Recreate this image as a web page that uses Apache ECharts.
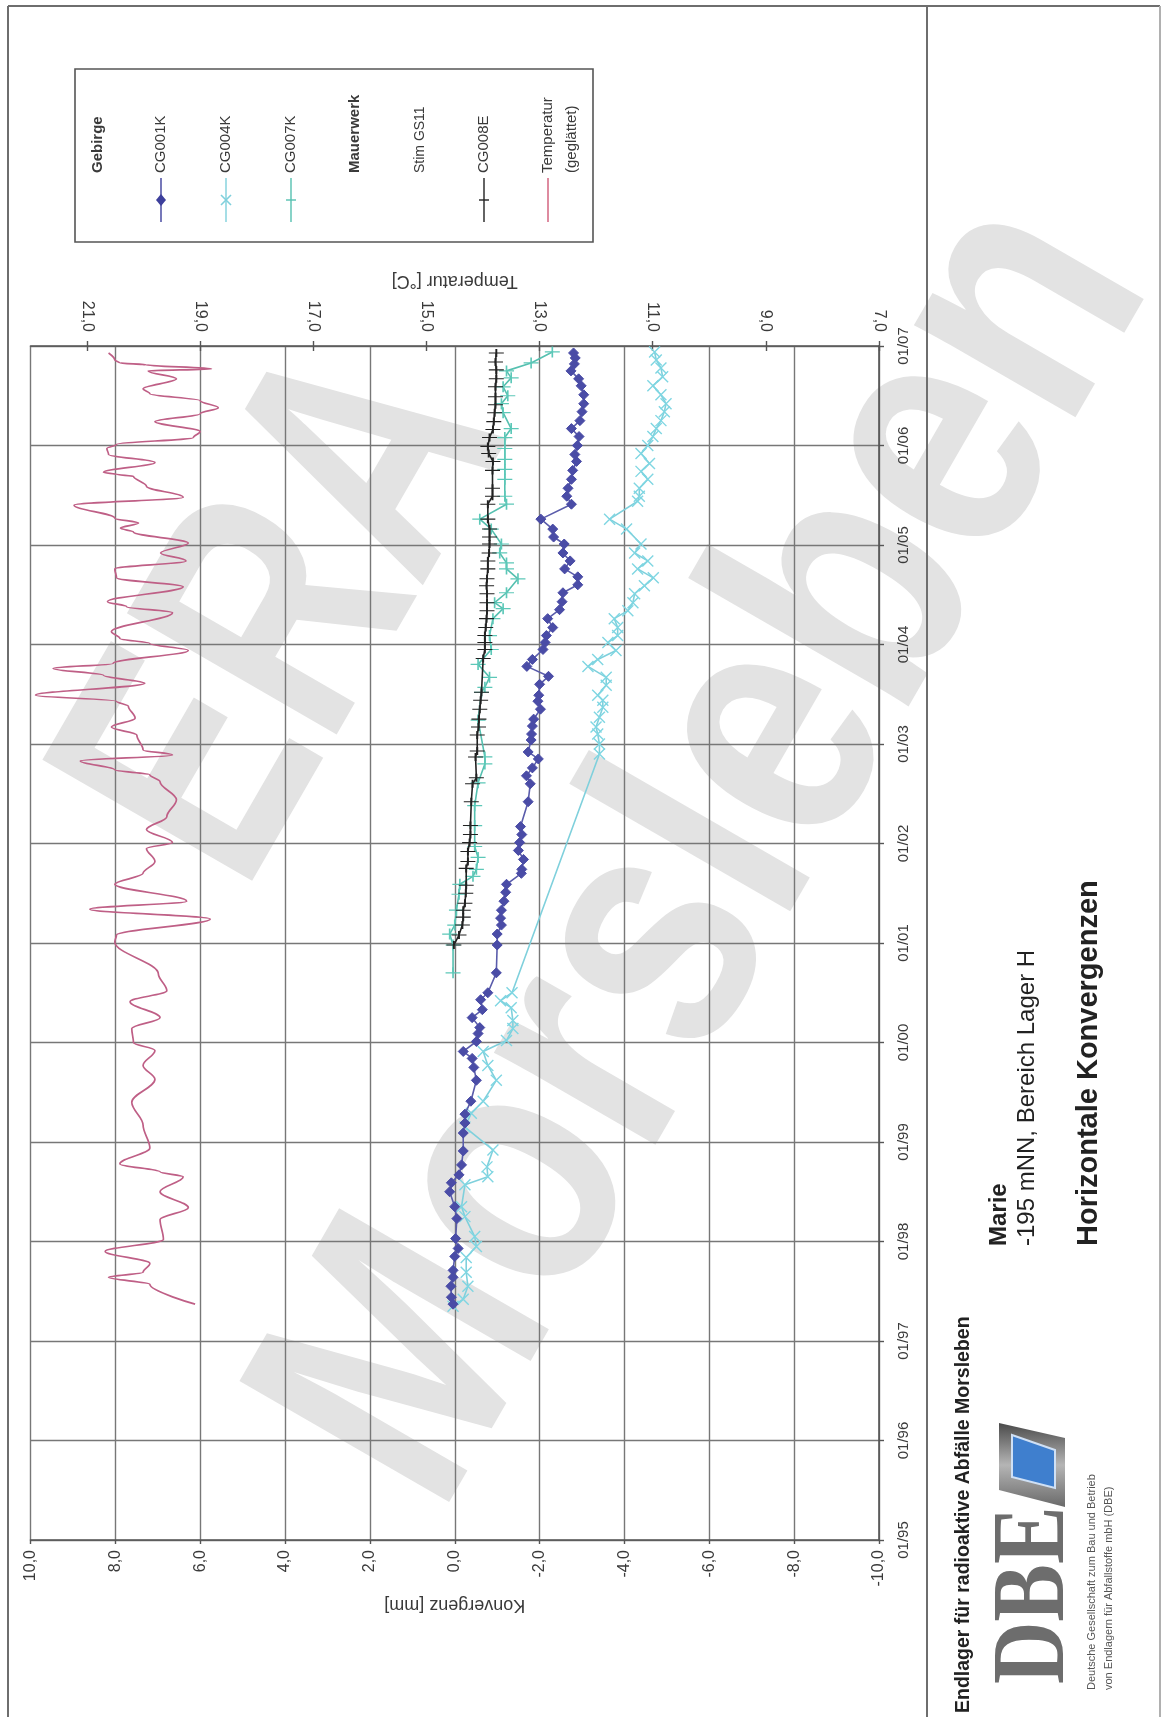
<!DOCTYPE html>
<html><head><meta charset="utf-8">
<style>html,body{margin:0;padding:0;background:#fff}#c{width:1161px;height:1717px;filter:blur(.45px)}</style>
<script src="https://cdn.jsdelivr.net/npm/echarts@6/dist/echarts.min.js"></script>
</head><body><div id="c"></div>
<script>
const cg001kYears=[2006.93,2006.88,2006.82,2006.75,2006.67,2006.60,2006.51,2006.42,2006.34,2006.25,2006.17,2006.09,2006.00,2005.91,2005.84,2005.75,2005.66,2005.57,2005.49,2005.41,2005.26,2005.16,2005.08,2005.01,2004.92,2004.84,2004.76,2004.68,2004.60,2004.52,2004.43,2004.35,2004.26,2004.17,2004.09,2004.02,2003.95,2003.85,2003.78,2003.68,2003.60,2003.49,2003.43,2003.35,2003.25,2003.18,2003.10,2003.04,2002.92,2002.85,2002.76,2002.68,2002.60,2002.42,2002.17,2002.09,2002.01,2001.93,2001.84,2001.74,2001.70,2001.59,2001.51,2001.42,2001.33,2001.25,2001.18,2001.09,2000.98,2000.70,2000.50,2000.43,2000.33,2000.25,2000.15,2000.09,2000.01,1999.91,1999.84,1999.75,1999.62,1999.41,1999.28,1999.19,1999.09,1998.91,1998.77,1998.67,1998.59,1998.50,1998.35,1998.23,1998.03,1997.93,1997.85,1997.71,1997.64,1997.55,1997.44,1997.37];
const cg001kValues=[-2.80,-2.84,-2.82,-2.74,-2.92,-2.98,-3.04,-3.04,-3.00,-2.95,-2.75,-2.93,-2.89,-2.83,-2.87,-2.78,-2.75,-2.67,-2.64,-2.75,-2.03,-2.31,-2.33,-2.58,-2.55,-2.72,-2.59,-2.90,-2.90,-2.55,-2.53,-2.47,-2.19,-2.31,-2.16,-2.13,-2.08,-1.83,-1.70,-2.21,-2.00,-1.98,-1.96,-2.02,-1.86,-1.83,-1.81,-1.80,-1.73,-1.97,-1.83,-1.69,-1.78,-1.73,-1.55,-1.58,-1.53,-1.50,-1.62,-1.58,-1.57,-1.22,-1.20,-1.16,-1.10,-1.08,-1.10,-1.00,-1.00,-0.98,-0.78,-0.61,-0.65,-0.41,-0.59,-0.55,-0.51,-0.20,-0.41,-0.45,-0.51,-0.38,-0.24,-0.24,-0.20,-0.20,-0.16,-0.10,0.08,0.12,0.00,-0.05,-0.02,-0.08,0.00,0.04,0.04,0.09,0.08,0.04];
const cg004kYears=[2006.94,2006.86,2006.78,2006.69,2006.60,2006.51,2006.42,2006.34,2006.25,2006.17,2006.09,2006.00,2005.92,2005.82,2005.74,2005.66,2005.57,2005.49,2005.44,2005.26,2005.16,2005.01,2004.92,2004.84,2004.76,2004.67,2004.59,2004.51,2004.42,2004.34,2004.26,2004.17,2004.09,2004.02,2003.94,2003.85,2003.78,2003.67,2003.59,2003.49,2003.44,2003.37,2003.27,2003.17,2003.10,2003.00,2002.90,2000.50,2000.42,2000.35,2000.22,2000.14,2000.02,1999.91,1999.77,1999.62,1999.41,1999.29,1999.15,1998.92,1998.75,1998.65,1998.57,1998.35,1998.25,1998.05,1997.95,1997.84,1997.69,1997.55,1997.42,1997.35];
const cg004kValues=[-4.71,-4.75,-4.86,-4.90,-4.67,-4.86,-4.98,-4.94,-4.86,-4.75,-4.67,-4.55,-4.39,-4.59,-4.39,-4.55,-4.35,-4.35,-4.31,-3.65,-4.05,-4.39,-4.24,-4.55,-4.31,-4.68,-4.47,-4.24,-4.20,-4.08,-3.76,-3.84,-3.84,-3.61,-3.80,-3.37,-3.14,-3.57,-3.57,-3.37,-3.49,-3.49,-3.41,-3.33,-3.37,-3.41,-3.41,-1.35,-1.08,-1.33,-1.37,-1.37,-1.22,-0.67,-0.78,-0.98,-0.67,-0.39,-0.24,-0.90,-0.76,-0.78,-0.24,-0.16,-0.24,-0.47,-0.51,-0.27,-0.27,-0.31,-0.20,0.04];
const cg007kYears=[2006.94,2006.83,2006.75,2006.68,2006.59,2006.50,2006.42,2006.33,2006.17,2006.08,2005.97,2005.86,2005.76,2005.66,2005.49,2005.41,2005.26,2005.16,2005.01,2004.92,2004.82,2004.76,2004.66,2004.52,2004.42,2004.36,2004.26,2004.09,2003.95,2003.80,2003.67,2003.57,2003.52,2003.24,2002.87,2002.80,2002.61,2002.38,2002.18,2001.97,2001.86,2001.74,2001.67,2001.59,2001.49,2001.33,2001.18,2001.09,2000.98,2000.70];
const cg007kValues=[-2.30,-1.80,-1.22,-1.33,-1.14,-1.25,-1.10,-1.14,-1.33,-1.18,-1.18,-1.18,-1.18,-1.18,-1.18,-1.22,-0.59,-0.86,-1.10,-1.06,-1.22,-1.22,-1.49,-1.22,-0.94,-1.14,-0.90,-0.82,-0.86,-0.55,-0.82,-0.71,-0.63,-0.55,-0.71,-0.71,-0.55,-0.47,-0.47,-0.47,-0.55,-0.51,-0.43,-0.12,-0.10,-0.04,0.00,0.12,0.04,0.04];
const cg008eYears=[2006.93,2006.84,2006.76,2006.67,2006.59,2006.49,2006.41,2006.33,2006.24,2006.16,2006.08,2005.99,2005.92,2005.84,2005.75,2005.57,2005.49,2005.41,2005.26,2005.16,2005.08,2005.01,2004.92,2004.84,2004.76,2004.66,2004.59,2004.51,2004.42,2004.34,2004.26,2004.17,2004.09,2004.02,2003.95,2003.86,2003.52,2003.44,2003.35,2003.25,2003.17,2003.09,2002.93,2002.87,2002.66,2002.60,2002.42,2002.18,2002.09,2002.01,2001.92,2001.82,2001.75,2001.58,2001.50,2001.40,2001.33,2001.26,2001.18,2001.08,2000.98];
const cg008eValues=[-0.98,-0.96,-0.98,-0.98,-0.96,-0.96,-0.96,-0.94,-0.92,-0.90,-0.82,-0.78,-0.80,-0.90,-0.89,-0.89,-0.89,-0.78,-0.78,-0.82,-0.82,-0.82,-0.81,-0.78,-0.78,-0.76,-0.75,-0.76,-0.76,-0.76,-0.75,-0.73,-0.71,-0.71,-0.71,-0.67,-0.63,-0.61,-0.59,-0.57,-0.56,-0.53,-0.53,-0.49,-0.51,-0.42,-0.39,-0.37,-0.37,-0.35,-0.31,-0.31,-0.27,-0.27,-0.26,-0.24,-0.20,-0.20,-0.18,-0.10,0.02];
const tempYears=[2006.93,2006.86,2006.83,2006.81,2006.77,2006.75,2006.67,2006.57,2006.52,2006.45,2006.38,2006.32,2006.24,2006.14,2006.08,2006.01,2005.97,2005.91,2005.83,2005.73,2005.71,2005.69,2005.59,2005.48,2005.40,2005.27,2005.22,2005.17,2005.13,2005.02,2004.92,2004.84,2004.76,2004.67,2004.58,2004.43,2004.38,2004.32,2004.13,2004.06,2004.01,2003.94,2003.81,2003.76,2003.69,2003.61,2003.49,2003.43,2003.38,2003.26,2003.17,2003.09,2002.94,2002.89,2002.83,2002.74,2002.69,2002.62,2002.44,2002.27,2002.14,2002.01,2001.95,2001.82,2001.70,2001.59,2001.42,2001.34,2001.24,2001.08,2001.01,2000.69,2000.52,2000.41,2000.25,2000.14,2000.00,1999.92,1999.77,1999.63,1999.40,1999.17,1998.94,1998.78,1998.70,1998.65,1998.50,1998.34,1998.22,1998.02,1997.90,1997.78,1997.69,1997.64,1997.57,1997.37];
const tempValues=[20.62,20.51,20.42,19.95,18.80,19.92,19.42,20.01,19.89,19.00,18.68,19.00,19.80,19.00,19.12,20.48,20.65,20.62,19.80,20.71,20.48,20.18,19.95,19.30,21.23,20.51,20.09,20.41,20.18,19.21,19.70,19.25,20.51,20.48,19.30,20.64,20.30,19.49,20.57,20.42,19.89,19.21,20.54,21.60,20.71,19.98,21.91,20.48,20.27,20.15,20.57,20.12,20.01,19.49,21.12,20.51,19.89,19.71,19.42,19.59,19.95,19.49,19.95,19.80,20.01,20.51,19.24,20.95,18.82,20.48,20.51,19.74,19.59,20.24,19.71,20.21,20.18,19.80,20.01,19.80,20.21,20.01,19.89,20.42,19.71,19.30,19.71,19.21,19.71,19.65,20.68,19.89,20.01,20.62,19.89,19.09];
const tempTicks=[7,9,11,13,15,17,19,21];

const FONT='"Liberation Sans",Arial,sans-serif';
const zip=(a,b)=>a.map((v,i)=>[b[i],v]);
const comma=v=>Number(v).toFixed(1).replace('.',',');
const PLUS='path://M0,5L10,5M5,0L5,10';
const CROSS='path://M0,0L10,10M10,0L0,10';
const mark=(name,years,vals,lc,mc,symbol,size,z)=>({name,type:'line',xAxisIndex:0,yAxisIndex:0,data:zip(years,vals),symbol,symbolSize:size,z,
  lineStyle:{color:lc,width:1.6},
  itemStyle: symbol==='diamond'?{color:mc,borderColor:mc}:{color:'rgba(0,0,0,0)',borderColor:mc,borderWidth:1.4},animation:false});

const rot=Math.PI/2;
const vtext=(x,y,text,opts={},extra={})=>Object.assign({type:'text',x,y,rotation:rot,style:Object.assign({text,fill:'#3a3a3a',font:'15px '+FONT,textAlign:'left',textVerticalAlign:'middle'},opts)},extra);
const vline=(x,y1,y2,stroke,w=1.4)=>({type:'line',shape:{x1:x,y1,x2:x,y2},style:{stroke,lineWidth:w}});
const hline=(y,x1,x2,stroke,w=1.4)=>({type:'line',shape:{x1,y1:y,x2,y2:y},style:{stroke,lineWidth:w}});
const frameC='#6e6e6e';
const lg=[
 {x:161,c:'#3d3f9c'},{x:226,c:'#7fd0dc'},{x:291,c:'#55c0b0'},{x:484,c:'#222'},{x:548,c:'#d05a78'}];
const wmAngle=60*Math.PI/180;
const graphic=[
 // watermark
 {type:'text',z:-5,x:508,y:1558,rotation:wmAngle,scaleX:.81,style:{text:'Morsleben',fill:'#e3e3e3',font:'bold 352px '+FONT,textAlign:'left',textVerticalAlign:'bottom'}},
 {type:'text',z:-5,x:312,y:935,rotation:wmAngle,scaleX:.72,style:{text:'ERA',fill:'#e3e3e3',font:'bold 352px '+FONT,textAlign:'left',textVerticalAlign:'bottom'}},
 // frame
 hline(6,8,1160,frameC,2),vline(8,6,1717,frameC,2),vline(1160,6,1717,'#b0b0b0',2),vline(927,6,1717,frameC,2),
 // legend box
 {type:'rect',shape:{x:75,y:69,width:518,height:173},style:{fill:'#fff',stroke:'#555',lineWidth:1.6}},
 vtext(98,173,'Gebirge',{font:'bold 15px '+FONT}),
 vtext(161,173,'CG001K'),vtext(226,173,'CG004K'),vtext(291,173,'CG007K'),
 vtext(355,173,'Mauerwerk',{font:'bold 15px '+FONT}),vtext(420,173,'Stim GS11',{font:'14px '+FONT}),vtext(484,173,'CG008E'),
 vtext(548,173,'Temperatur'),vtext(572,173,'(geglättet)'),
 vline(161,178,222,lg[0].c),vline(226,178,222,lg[1].c),vline(291,178,222,lg[2].c),vline(484,178,222,lg[3].c),vline(548,178,222,lg[4].c),
 {type:'polygon',shape:{points:[[161,194],[166,200],[161,206],[156,200]]},style:{fill:'#3d3f9c'}},
 hline(200,291-5,291+5,'#55c0b0'),hline(200,484-5,484+5,'#222'),
 {type:'line',shape:{x1:221,y1:195,x2:231,y2:205},style:{stroke:'#7fd0dc',lineWidth:1.6}},
 {type:'line',shape:{x1:231,y1:195,x2:221,y2:205},style:{stroke:'#7fd0dc',lineWidth:1.6}},
 // title block
 vtext(964,1713,'Endlager für radioaktive Abfälle Morsleben',{font:'bold 19.5px '+FONT,fill:'#222'}),
 vtext(999,1246,'Marie',{font:'bold 24px '+FONT,fill:'#222'}),
 vtext(1027,1246,'-195 mNN, Bereich Lager H',{font:'24px '+FONT,fill:'#222'}),
 vtext(1089,1246,'Horizontale Konvergenzen',{font:'bold 29px '+FONT,fill:'#222'}),
 vtext(1092,1690,'Deutsche Gesellschaft zum Bau und Betrieb',{font:'11px '+FONT,fill:'#555'}),
 vtext(1109,1690,'von Endlagern für Abfallstoffe mbH (DBE)',{font:'11px '+FONT,fill:'#555'}),
 // logo
 {type:'polygon',shape:{points:[[999,1423],[1065,1438],[1065,1507],[999,1490]]},style:{fill:{type:'linear',x:0,y:0,x2:0,y2:1,colorStops:[{offset:0,color:'#4a4a4a'},{offset:.5,color:'#b5b5b5'},{offset:1,color:'#6a6a6a'}]}}},
 {type:'polygon',shape:{points:[[1012,1435],[1055,1450],[1055,1488],[1012,1477]]},style:{fill:'#3f7fce',stroke:'#cfe0f5',lineWidth:2}},
 {type:'text',x:1036,y:1684,rotation:rot,scaleX:.83,style:{text:'DBE',fill:'#6d6d6d',font:'bold 104px "Liberation Serif",serif',textAlign:'left',textVerticalAlign:'middle'}}
];

const axisLine={show:true,onZero:false,lineStyle:{color:'#555',width:1.6}};
const label=(extra)=>Object.assign({rotate:90,color:'#3a3a3a',fontFamily:FONT,fontSize:16},extra);
const option={
 animation:false,backgroundColor:'#fff',
 grid:{left:30.5,right:282,top:346,bottom:177,containLabel:false},
 xAxis:[
  {type:'value',min:-10,max:10,interval:2,inverse:true,position:'bottom',
   name:'Konvergenz [mm]',nameLocation:'middle',nameGap:56,nameRotate:180,nameTextStyle:{fontFamily:FONT,fontSize:18,color:'#3a3a3a'},
   axisLine,axisTick:{show:true,length:4,lineStyle:{color:'#555',width:1.4}},
   axisLabel:label({margin:10,formatter:comma}),
   splitLine:{show:true,lineStyle:{color:'#777',width:1.4}}},
  {type:'value',min:7,max:22,inverse:true,position:'top',
   name:'Temperatur [°C]',nameLocation:'middle',nameGap:56,nameRotate:180,nameTextStyle:{fontFamily:FONT,fontSize:18,color:'#3a3a3a'},
   axisLine,axisTick:{show:true,length:5,customValues:tempTicks,lineStyle:{color:'#555',width:1.4}},
   axisLabel:label({margin:14,customValues:tempTicks,formatter:comma}),
   splitLine:{show:false}},
  {type:'value',min:7,max:22,inverse:true,position:'top',
   axisLine:{show:false},axisTick:{show:true,inside:true,length:5,customValues:tempTicks,lineStyle:{color:'#555',width:1.4}},
   axisLabel:{show:false},splitLine:{show:false}}
 ],
 yAxis:[{type:'value',min:1995,max:2007,interval:1,position:'right',
   axisLine,axisTick:{show:true,length:5,lineStyle:{color:'#555',width:1.4}},
   axisLabel:label({margin:17,fontSize:15,formatter:v=>'01/'+String(v).slice(2)}),
   splitLine:{show:true,lineStyle:{color:'#777',width:1.4}}}],
 series:[
  {name:'Temperatur (geglättet)',type:'line',xAxisIndex:1,yAxisIndex:0,data:zip(tempYears,tempValues),symbol:'none',smooth:.35,smoothMonotone:'y',z:3,lineStyle:{color:'#bf5f86',width:1.7}},
  mark('CG004K',cg004kYears,cg004kValues,'#7fd0dc','#7fd6e2',CROSS,11,4),
  mark('CG007K',cg007kYears,cg007kValues,'#55c0b0','#5cc8b8',PLUS,[15,11],5),
  mark('CG008E',cg008eYears,cg008eValues,'#222','#222',PLUS,[15,8],6),
  mark('CG001K',cg001kYears,cg001kValues,'#5a5cab','#4a4ca6','diamond',10,7)
 ],
 graphic:{elements:graphic}
};
const chart=echarts.init(document.getElementById('c'),null,{renderer:'canvas',width:1161,height:1717});
chart.setOption(option);
</script></body></html>
